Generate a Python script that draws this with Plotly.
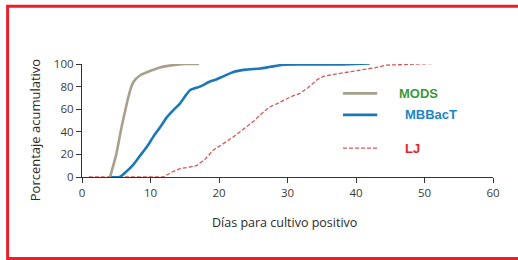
import plotly.graph_objects as go

# Data
mods_x = [4.1, 5.0, 5.8, 6.5, 7.0, 7.5, 8.5, 10.0, 11.4, 13.3, 15.0, 17.1]
mods_y = [0, 20, 45, 64, 76, 84, 90, 94, 97, 99, 100, 100]

mbb_x = [4.0, 5.5, 6.5, 7.5, 8.5, 9.5, 10.4, 11.4, 12.4, 13.3, 14.3, 15.0, 15.8, 17.2, 18.7, 19.5, 20.6, 22.1, 24.0, 26.0, 27.5, 29.4, 32.0, 35.0, 38.0, 40.0, 42.0]
mbb_y = [0, 0, 5, 11, 19, 27, 35.5, 44, 53, 59, 65, 71, 77, 80, 84.5, 86, 89, 93, 95, 96, 97.5, 99.3, 99.5, 99.5, 99.6, 100, 100.5]

lj_x = [1.0, 5.0, 10.0, 11.9, 13.0, 14.3, 15.5, 16.7, 18.0, 19.2, 20.5, 22.1, 23.5, 25.0, 26.0, 27.4, 28.5, 29.4, 30.5, 31.8, 33.0, 34.3, 35.2, 37.0, 39.1, 40.5, 41.6, 43.0, 44.5, 46.5, 48.9, 51.0, 53.7]
lj_y = [0, 0, 0, 0, 4, 7.4, 8.5, 10, 16, 24, 29, 35.5, 42, 49, 55, 62, 65, 68, 71, 74, 79, 86, 89, 91, 93, 94, 95, 97, 99, 99.5, 100, 100.3, 101]

x_ticks = [0, 10, 20, 30, 40, 50, 60]
y_ticks = [0, 20, 40, 60, 80, 100]

series_names = ["MODS", "MBBacT", "LJ"]
series_colors = ["#a9a08c", "#1b77b6", "#d65a58"]
label_colors = ["#3c9a3c", "#1b86c8", "#e0242c"]

x_title = "Días para cultivo positivo"
y_title = "Porcentaje acumulativo"

fig = go.Figure()
fig.add_trace(go.Scatter(x=lj_x, y=lj_y, mode="lines", name=series_names[2],
                         line=dict(color=series_colors[2], width=1.3, dash="4px,2px")))
fig.add_trace(go.Scatter(x=mbb_x, y=mbb_y, mode="lines", name=series_names[1],
                         line=dict(color=series_colors[1], width=2.6, shape="spline", smoothing=0.6)))
fig.add_trace(go.Scatter(x=mods_x, y=mods_y, mode="lines", name=series_names[0],
                         line=dict(color=series_colors[0], width=2.6, shape="spline", smoothing=0.6)))

# Custom legend (line samples + coloured bold labels)
leg_y = [74, 55, 25.5]
leg_dash = ["solid", "solid", "4px,2px"]
leg_w = [2.6, 2.6, 1.3]
shapes = []
annotations = []
for i in range(3):
    shapes.append(dict(type="line", xref="x", yref="y", x0=38.1, x1=43.1, y0=leg_y[i], y1=leg_y[i],
                       line=dict(color=series_colors[i], width=leg_w[i], dash=leg_dash[i])))
    annotations.append(dict(xref="x", yref="y", x=46.0 if i == 0 else 46.9, y=leg_y[i], text="<b>%s</b>" % series_names[i],
                            showarrow=False, xanchor="left", yanchor="middle",
                            font=dict(color=label_colors[i], size=13, family="Liberation Sans, Arial")))

# axis titles
annotations.append(dict(xref="paper", yref="paper", x=0.493, y=-0.40, text=x_title, showarrow=False,
                        xanchor="center", yanchor="middle", font=dict(size=12.5, color="#2a2a2a")))
annotations.append(dict(xref="paper", yref="paper", x=-0.114, y=0.415, text=y_title, showarrow=False,
                        textangle=-90, xanchor="center", yanchor="middle", font=dict(size=13, color="#2a2a2a")))

# red frame
shapes.append(dict(type="rect", xref="paper", yref="paper", x0=-0.181, x1=1.12, y0=-0.722, y1=1.51,
                   line=dict(color="#e8202a", width=3), layer="above"))

fig.update_layout(
    width=518, height=260,
    margin=dict(l=82, r=25, t=64, b=83),
    paper_bgcolor="white", plot_bgcolor="white",
    showlegend=False,
    font=dict(family="Open Sans, Liberation Sans", color="#333333", size=11),
    shapes=shapes, annotations=annotations,
    xaxis=dict(range=[0, 60], tickvals=x_ticks, ticks="outside", ticklen=5, tickcolor="#333",
               showline=True, linecolor="#333", linewidth=1.2, showgrid=False, zeroline=False,
               tickfont=dict(size=11.5, color="#3a3a3a")),
    yaxis=dict(range=[0, 100], tickvals=y_ticks, ticks="outside", ticklen=5, tickcolor="#333",
               showline=True, linecolor="#333", linewidth=1.2, showgrid=False, zeroline=False,
               tickfont=dict(size=11.5, color="#3a3a3a")),
)

fig.write_html("out.html", config={"displayModeBar": False},
               post_script="document.body.style.margin='0';document.body.style.overflow='hidden';")
